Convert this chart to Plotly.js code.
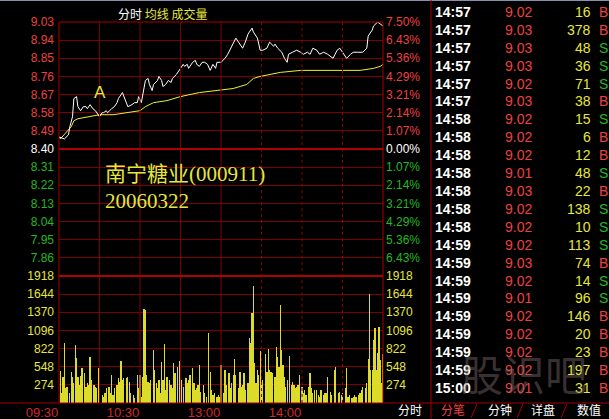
<!DOCTYPE html>
<html><head><meta charset="utf-8">
<script src="https://cdn.plot.ly/plotly-3.0.1.min.js"></script>
<style>html,body{margin:0;padding:0;background:#000;}#chart{width:609px;height:419px;}</style>
</head><body><div id="chart"></div>
<script>
// ---- price line (minute index from 09:30, trading minutes) ----
const priceMin = [0,4,7,8,10,11,13,14,16,18,
  20,21,23,25,27,28,30,32,33,35,
  36,39,41,43,44,47,48,50,51,54,
  56,58,59,61,62,64,66,67,69,70,
  73,74,76,77,79,81,83,84,87,90,
  92,93,95,96,98,99,101,102,104,106,
  108,110,112,114,116,117,120,123,125,128,
  131,133,136,138,140,143,144,147,149,151,
  154,156,159,160,162,165,167,169,170,173,
  176,179,181,184,186,188,191,193,196,199,
  201,203,206,208,210,213,216,218,221,223,
  225,228,229,232,233,236,238,240];
const price = [8.46,8.45,8.47,8.51,8.56,8.65,8.66,8.61,8.59,8.61,
  8.61,8.60,8.62,8.60,8.59,8.58,8.56,8.58,8.58,8.59,
  8.58,8.60,8.61,8.63,8.65,8.68,8.66,8.63,8.61,8.62,
  8.63,8.63,8.66,8.63,8.67,8.74,8.75,8.72,8.69,8.72,
  8.74,8.76,8.74,8.71,8.72,8.74,8.73,8.75,8.77,8.80,
  8.82,8.81,8.82,8.80,8.82,8.83,8.84,8.82,8.81,8.83,
  8.83,8.82,8.79,8.82,8.80,8.83,8.83,8.85,8.87,8.91,
  8.95,8.93,8.90,8.93,8.97,9.00,8.98,8.95,8.89,8.89,
  8.90,8.93,8.91,8.92,8.90,8.88,8.85,8.83,8.87,8.88,
  8.89,8.88,8.87,8.88,8.87,8.90,8.89,8.87,8.88,8.87,
  8.86,8.85,8.89,8.90,8.88,8.85,8.87,8.88,8.88,8.88,
  8.88,8.90,8.96,8.99,9.01,9.03,9.02,9.01];
// ---- average price line ----
const avgMin = [0,1,9,11,14,21,30,40,50,60,64,70,80,90,104,119,129,139,144,149,164,179,193,208,223,233,238,240];
const avgPrice = [8.46,8.45,8.51,8.54,8.55,8.56,8.57,8.57,8.58,8.59,8.61,8.63,8.64,8.66,8.68,8.69,8.70,8.72,8.75,8.76,8.78,8.79,8.79,8.79,8.79,8.80,8.81,8.82];
// ---- volume bars ----
const volMin = [1,2,3,4,5,6,8,9,10,11,
  12,13,14,15,16,17,19,20,21,22,
  23,24,26,27,28,29,30,32,33,34,
  35,37,38,39,40,41,43,44,45,46,
  47,48,50,51,52,53,55,56,58,59,
  60,61,62,63,64,65,66,67,68,70,
  71,72,73,74,75,76,77,78,79,80,
  82,83,84,85,86,88,89,90,91,92,
  94,95,96,97,99,100,101,102,103,104,
  105,107,108,109,111,112,113,114,115,117,
  118,119,120,122,123,124,126,127,128,129,
  130,131,133,134,135,136,137,138,140,141,
  142,143,144,145,146,147,148,149,150,151,
  153,154,155,156,157,158,160,161,162,163,
  164,165,166,167,168,169,171,172,173,174,
  175,176,177,178,180,181,182,183,185,186,
  187,188,189,191,192,193,194,196,197,198,
  199,201,202,204,205,207,208,209,210,212,
  213,214,215,217,218,219,220,222,223,224,
  225,227,228,229,230,231,232,233,234,235,
  236,237,238,239,240];
const volume = [488,146,397,910,221,246,146,473,397,297,
  875,674,397,272,407,523,448,246,297,272,
  689,347,272,246,221,523,171,121,96,146,
  221,246,146,423,121,221,272,372,322,639,
  347,372,372,387,322,146,121,70,423,221,
  423,96,397,1413,1403,423,322,297,347,800,
  498,297,221,347,146,624,347,890,196,397,
  347,272,221,599,448,548,634,634,347,246,
  372,297,347,423,523,297,196,221,272,573,
  171,272,146,96,1061,473,196,121,146,96,
  121,96,573,146,498,272,448,221,297,423,
  659,423,221,473,246,272,448,196,297,976,
  900,1353,1766,599,297,498,423,790,297,347,
  740,473,810,498,473,448,397,840,700,548,
  1479,800,573,397,246,347,709,272,322,272,
  221,246,272,423,246,146,196,121,246,448,
  221,146,196,196,121,96,196,121,146,146,
  397,171,121,498,548,146,171,121,146,221,
  523,96,121,70,96,121,96,121,146,196,
  246,221,297,659,1645,498,498,950,1127,498,
  749,1152,649,297,740];
// ---- axis ticks ----
const priceTicks = [9.03,8.94,8.85,8.76,8.67,8.58,8.49,8.40,8.31,8.22,8.13,8.04,7.95,7.86];
const pctLabels = ["7.50%","6.43%","5.36%","4.29%","3.21%","2.14%","1.07%","0.00%","1.07%","2.14%","3.21%","4.29%","5.36%","6.43%"];
const volTicks = [1918,1644,1370,1096,822,548,274];
const timeTicks = [0,60,120,180];
const timeLabels = ["09:30","10:30","13:00","14:00"];
const prevClose = 8.40;
// ---- trade detail table ----
const tTime = ["14:57","14:57","14:57","14:57","14:57","14:57","14:58","14:58","14:58","14:58","14:58","14:58","14:58","14:59","14:59","14:59","14:59","14:59","14:59","14:59","14:59","15:00"];
const tPrice = ["9.02","9.03","9.03","9.03","9.02","9.03","9.02","9.02","9.02","9.01","9.03","9.02","9.02","9.02","9.03","9.02","9.01","9.02","9.02","9.02","9.02","9.01"];
const tVol = [16,378,48,36,71,38,15,6,12,48,22,138,10,113,74,14,96,146,20,23,197,31];
const tSide = ["B","B","S","S","S","B","S","B","B","S","B","S","S","S","B","S","S","B","B","B","B","B"];
const tabs = ["分笔","分钟","详盘","数值"];

const RED = '#ec4040', GREEN = '#22b822', YEL = '#e6e63c', WHITE = '#ffffff';
const GRID = '#7c0000', BORDER = '#a40000';
const L = 59, R = 383, T = 22, B = 403;
const W = R - L, H = B - T;
const px = x => (x - L) / W;
const py = y => (B - y) / H;
const split = 127 / 381;

function col(p){ return Math.abs(p - prevClose) < 1e-6 ? WHITE : (p > prevClose ? RED : GREEN); }
const leftText = priceTicks.map(p => `<span style="color:${col(p)}">${p.toFixed(2)}</span>`);
const rightText = priceTicks.map((p,i) => `<span style="color:${col(p)}">${pctLabels[i]}</span>`);

const traces = [
  {x: volMin, y: volume, type: 'bar', xaxis: 'x', yaxis: 'y3', marker: {color: '#dcdc28', line: {width: 0}}, width: 0.9, hoverinfo: 'skip'},
  {x: avgMin, y: avgPrice, type: 'scatter', mode: 'lines', xaxis: 'x', yaxis: 'y', line: {color: '#f0f028', width: 1}, hoverinfo: 'skip'},
  {x: priceMin, y: price, type: 'scatter', mode: 'lines', xaxis: 'x', yaxis: 'y', line: {color: '#ffffff', width: 1}, hoverinfo: 'skip'}
];

const axFont = {family: 'Liberation Sans, Arial, sans-serif', size: 12};
const layout = {
  width: 609, height: 419,
  margin: {l: L, r: 609 - R, t: T, b: 419 - B, pad: 0},
  paper_bgcolor: '#000', plot_bgcolor: '#000',
  showlegend: false, bargap: 0,
  xaxis: {domain: [0, 1], anchor: 'y3', range: [0, 240], tickvals: timeTicks, ticktext: timeLabels,
    tickfont: {family: 'Liberation Sans, Arial, sans-serif', size: 13, color: '#d02828'}, ticks: '', showgrid: false, zeroline: false,
    showline: false, ticklabelshift: -17, ticklabelstandoff: 0},
  yaxis: {domain: [split, 1], range: [7.77, 9.03], tickvals: priceTicks, ticktext: leftText, tickfont: axFont,
    ticks: '', showgrid: true, gridcolor: GRID, gridwidth: 1, zeroline: false, showline: false, ticklabelstandoff: 4},
  yaxis2: {overlaying: 'y', side: 'right', anchor: 'x', range: [7.77, 9.03], tickvals: priceTicks, ticktext: rightText, tickfont: axFont,
    ticks: '', showgrid: false, zeroline: false, showline: false, ticklabelstandoff: 2},
  yaxis3: {domain: [0, split], range: [0, 1918], tickvals: volTicks, ticktext: volTicks.map(String), tickfont: Object.assign({color: YEL}, axFont),
    ticks: '', showgrid: true, gridcolor: GRID, gridwidth: 1, zeroline: false, showline: false, ticklabelstandoff: 4},
  yaxis4: {overlaying: 'y3', side: 'right', anchor: 'x', range: [0, 1918], tickvals: volTicks, ticktext: volTicks.map(String), tickfont: Object.assign({color: YEL}, axFont),
    ticks: '', showgrid: false, zeroline: false, showline: false, ticklabelstandoff: 2},
  shapes: [], annotations: []
};
traces.push({x: [0], y: [7.77], yaxis: 'y2', xaxis: 'x', type: 'scatter', mode: 'markers', marker: {opacity: 0}, hoverinfo: 'skip'});
traces.push({x: [0], y: [0], yaxis: 'y4', xaxis: 'x', type: 'scatter', mode: 'markers', marker: {opacity: 0}, hoverinfo: 'skip'});

const S = layout.shapes, A = layout.annotations;
[30, 60, 90, 120].forEach(m => S.push({type: 'line', xref: 'x', yref: 'paper', x0: m, x1: m, y0: 0, y1: 1, line: {color: GRID, width: 1}}));
[150, 180, 210].forEach(m => S.push({type: 'line', xref: 'x', yref: 'paper', x0: m, x1: m, y0: 0, y1: 1, line: {color: '#900000', width: 1, dash: 'dot'}}));
S.push({type: 'line', xref: 'paper', yref: 'y', x0: 0, x1: 1, y0: prevClose, y1: prevClose, line: {color: '#b00000', width: 2}});
S.push({type: 'line', xref: 'paper', yref: 'paper', x0: 0, x1: 1, y0: split, y1: split, line: {color: '#b00000', width: 2}});
S.push({type: 'line', xref: 'paper', yref: 'paper', x0: 0, x1: 0, y0: 0, y1: 1, line: {color: BORDER, width: 1}});
S.push({type: 'line', xref: 'paper', yref: 'paper', x0: 1, x1: 1, y0: 0, y1: 1, line: {color: BORDER, width: 1}});
S.push({type: 'line', xref: 'paper', yref: 'paper', x0: 0, x1: 1, y0: 1, y1: 1, line: {color: BORDER, width: 1}});
S.push({type: 'line', xref: 'paper', yref: 'paper', x0: px(0), x1: px(609), y0: py(403), y1: py(403), line: {color: BORDER, width: 1}});
S.push({type: 'line', xref: 'paper', yref: 'paper', x0: px(0), x1: px(609), y0: py(0.5), y1: py(0.5), line: {color: '#8890b0', width: 1}});
S.push({type: 'line', xref: 'paper', yref: 'paper', x0: px(431), x1: px(431), y0: py(0), y1: py(419), line: {color: BORDER, width: 1}});
[474, 520, 564].forEach(x => S.push({type: 'line', xref: 'paper', yref: 'paper', x0: px(x - 3), x1: px(x + 3), y0: py(418), y1: py(404), line: {color: BORDER, width: 1}}));

A.push({xref: 'paper', yref: 'paper', x: px(116), y: py(13), xanchor: 'left', yanchor: 'middle', showarrow: false,
  text: `<span style="color:#ffffff">分时</span> <span style="color:${YEL}">均线</span> <span style="color:${YEL}">成交量</span>`,
  font: {family: 'Noto Sans CJK SC, sans-serif', size: 12}});
A.push({xref: 'x', yref: 'y', x: 30.5, y: 8.68, xanchor: 'center', yanchor: 'middle', showarrow: false, text: 'A',
  font: {family: 'Liberation Sans, Arial, sans-serif', size: 17, color: YEL}});
A.push({xref: 'paper', yref: 'paper', x: px(103), y: py(160), xanchor: 'left', yanchor: 'top', align: 'left', showarrow: false,
  text: '南宁糖业(000911)<br>20060322',
  font: {family: 'Liberation Serif, Noto Sans CJK SC, serif', size: 21, color: YEL}});
A.push({xref: 'paper', yref: 'paper', x: px(410), y: py(409.5), xanchor: 'center', yanchor: 'middle', showarrow: false, text: '分时',
  font: {family: 'Noto Sans CJK SC, sans-serif', size: 12, color: WHITE}});

const rowY = i => 12 + i * 17.9;
tTime.forEach((t, i) => {
  const y = py(rowY(i));
  A.push({xref: 'paper', yref: 'paper', x: px(433), y, xanchor: 'left', yanchor: 'middle', showarrow: false, text: '<b>' + t + '</b>',
    font: {family: 'Liberation Sans, Arial, sans-serif', size: 14, color: WHITE}});
  A.push({xref: 'paper', yref: 'paper', x: px(503), y, xanchor: 'left', yanchor: 'middle', showarrow: false, text: tPrice[i],
    font: {family: 'Liberation Sans, Arial, sans-serif', size: 14, color: RED}});
  A.push({xref: 'paper', yref: 'paper', x: px(593), y, xanchor: 'right', yanchor: 'middle', showarrow: false, text: String(tVol[i]),
    font: {family: 'Liberation Sans, Arial, sans-serif', size: 14, color: YEL}});
  A.push({xref: 'paper', yref: 'paper', x: px(597), y, xanchor: 'left', yanchor: 'middle', showarrow: false, text: tSide[i],
    font: {family: 'Liberation Sans, Arial, sans-serif', size: 14, color: tSide[i] === 'B' ? RED : GREEN}});
});
const tabX = [453, 500, 543, 589];
tabs.forEach((t, i) => A.push({xref: 'paper', yref: 'paper', x: px(tabX[i]), y: py(409.5), xanchor: 'center', yanchor: 'middle', showarrow: false, text: t,
  font: {family: 'Noto Sans CJK SC, sans-serif', size: 12, color: i === 0 ? RED : WHITE}}));
A.push({xref: 'paper', yref: 'paper', x: px(524), y: py(372), xanchor: 'center', yanchor: 'middle', showarrow: false, text: '股识吧',
  font: {family: 'Noto Sans CJK SC, sans-serif', size: 42, color: 'rgba(130,110,110,0.45)'}});

Plotly.newPlot('chart', traces, layout, {staticPlot: true, displayModeBar: false});
</script></body></html>
